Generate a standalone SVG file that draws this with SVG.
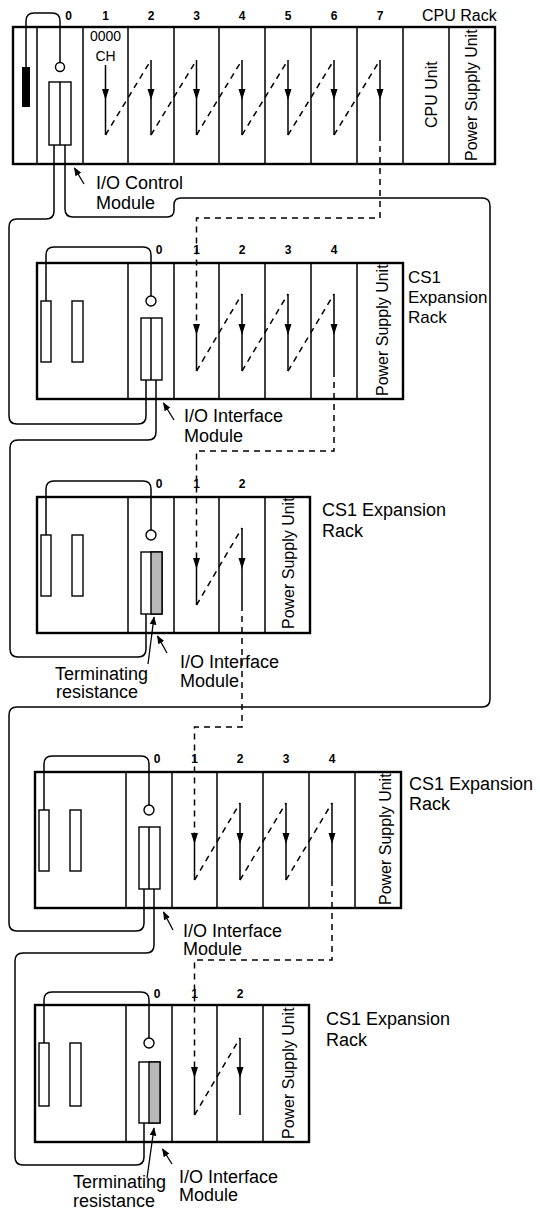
<svg xmlns="http://www.w3.org/2000/svg" width="540" height="1214" viewBox="0 0 540 1214">
<defs>
<style>
.rack{fill:#fff;stroke:#000;stroke-width:2.4}
.dv{stroke:#000;stroke-width:1.5;fill:none}
.bar{fill:#fff;stroke:#000;stroke-width:1.4}
.cab{fill:none;stroke:#000;stroke-width:1.5}
.flow{fill:none;stroke:#000;stroke-width:1.5}
.dash{fill:none;stroke:#000;stroke-width:1.5;stroke-dasharray:6 5}
.ptr{fill:none;stroke:#000;stroke-width:1.3;marker-end:url(#ah)}
.term{fill:#b8b8b8;stroke:#000;stroke-width:1.4}
text{font-family:"Liberation Sans",Arial,Helvetica,sans-serif;fill:#000}
.lbl{font-size:18px}
.num{font-size:12px;font-weight:bold;text-anchor:middle}
.rot{font-size:16px}
.ch{font-size:14px;text-anchor:middle}
</style>
<marker id="ah" viewBox="0 0 10 10" refX="9" refY="5" markerWidth="6.5" markerHeight="6.5" orient="auto"><path d="M0,1 L10,5 L0,9 z" fill="#000"/></marker>
</defs>
<rect x="0" y="0" width="540" height="1214" fill="#fff"/>

<!-- CPU Rack -->
<g id="cpu-rack">
<rect class="rack" x="13" y="27" width="482" height="137"/>
<path class="dv" d="M37,27V164M83,27V164M128,27V164M174,27V164M219,27V164M265,27V164M311,27V164M357,27V164M403,27V164M449,27V164"/>
<rect x="22" y="67" width="8" height="40" fill="#000"/>
<path class="cab" d="M26,67 V21 Q26,13 34,13 H52 Q60,13 60,21 V62.5"/>
<circle cx="60" cy="67" r="4.5" fill="#fff" stroke="#000" stroke-width="1.4"/>
<rect class="bar" x="49" y="82" width="22" height="63"/>
<line class="dv" x1="60" y1="82" x2="60" y2="145"/>
<text class="num" x="68.5" y="20">0</text>
<text class="num" x="105.5" y="20">1</text>
<text class="num" x="151" y="20">2</text>
<text class="num" x="196.5" y="20">3</text>
<text class="num" x="242" y="20">4</text>
<text class="num" x="288" y="20">5</text>
<text class="num" x="334" y="20">6</text>
<text class="num" x="380" y="20">7</text>
<text class="ch" x="105.5" y="41">0000</text>
<text class="ch" x="105.5" y="61">CH</text>
<path class="flow" d="M105.5,65V135M151,60V135M196.5,60V135M242,60V135M288,60V135M334,60V135M380,60V135"/>
<path fill="#000" d="M102,89H109L105.5,100Z M147.5,89H154.5L151,100Z M193,89H200L196.5,100Z M238.5,89H245.5L242,100Z M284.5,89H291.5L288,100Z M330.5,89H337.5L334,100Z M376.5,89H383.5L380,100Z"/>
<path class="dash" d="M105.5,135L151,60M151,135L196.5,60M196.5,135L242,60M242,135L288,60M288,135L334,60M334,135L380,60"/>
<text class="rot" transform="translate(437,128) rotate(-90)">CPU Unit</text>
<text class="rot" transform="translate(477,161) rotate(-90)">Power Supply Unit</text>
<text class="rot" x="422" y="21">CPU Rack</text>
<text class="lbl" x="96" y="189">I/O Control</text>
<text class="lbl" x="96" y="209">Module</text>
<line class="ptr" x1="84" y1="184" x2="74.5" y2="168"/>
</g>

<!-- CS1 Expansion Rack 1 (5 slots) -->
<g id="exp-rack-1">
<g transform="translate(37,263)">
<rect class="rack" x="0" y="0" width="366" height="136"/>
<path class="dv" d="M91,0V136M137,0V136M182,0V136M228,0V136M274,0V136M320,0V136"/>
<rect class="bar" x="4" y="38" width="10" height="61"/>
<rect class="bar" x="35" y="38" width="11" height="61"/>
<path class="cab" d="M9,38 V-8 Q9,-16 17,-16 H106 Q114,-16 114,-8 V33"/>
<circle cx="114" cy="38" r="5" fill="#fff" stroke="#000" stroke-width="1.4"/>
<rect class="bar" x="104" y="55" width="21" height="62"/>
<line class="dv" x1="114" y1="55" x2="114" y2="117"/>
<text class="num" x="122" y="-9">0</text>
<text class="num" x="159.5" y="-9">1</text>
<text class="num" x="205" y="-9">2</text>
<text class="num" x="251" y="-9">3</text>
<text class="num" x="297" y="-9">4</text>
<path class="flow" d="M159.5,62V108M205,31V108M251,31V108M297,31V108"/>
<path fill="#000" d="M156,61H163L159.5,72Z M201.5,61H208.5L205,72Z M247.5,61H254.5L251,72Z M293.5,61H300.5L297,72Z"/>
<path class="dash" d="M159.5,108L205,31M205,108L251,31M251,108L297,31"/>
<text class="rot" transform="translate(351,133) rotate(-90)">Power Supply Unit</text>
</g>
<text class="lbl" style="font-size:17px" x="408" y="283">CS1</text>
<text class="lbl" style="font-size:17px" x="408" y="303">Expansion</text>
<text class="lbl" style="font-size:17px" x="408" y="323">Rack</text>
<text class="lbl" x="184" y="422">I/O Interface</text>
<text class="lbl" x="184" y="442">Module</text>
<line class="ptr" x1="174" y1="420" x2="163.5" y2="403"/>
</g>

<!-- CS1 Expansion Rack 2 (3 slots, terminated) -->
<g id="exp-rack-2">
<g transform="translate(37,497)">
<rect class="rack" x="0" y="0" width="273" height="136"/>
<path class="dv" d="M91,0V136M137,0V136M182,0V136M228,0V136"/>
<rect class="bar" x="4" y="38" width="10" height="61"/>
<rect class="bar" x="35" y="38" width="11" height="61"/>
<path class="cab" d="M9,38 V-8 Q9,-16 17,-16 H106 Q114,-16 114,-8 V33"/>
<circle cx="114" cy="38" r="5" fill="#fff" stroke="#000" stroke-width="1.4"/>
<rect class="bar" x="104" y="55" width="21" height="62"/>
<rect class="term" x="114" y="55" width="11" height="62"/>
<text class="num" x="122" y="-9">0</text>
<text class="num" x="159.5" y="-9">1</text>
<text class="num" x="205" y="-9">2</text>
<path class="flow" d="M159.5,62V108M205,31V108"/>
<path fill="#000" d="M156,61H163L159.5,72Z M201.5,61H208.5L205,72Z"/>
<path class="dash" d="M159.5,108L205,31"/>
<text class="rot" transform="translate(257,132) rotate(-90)">Power Supply Unit</text>
</g>
<text class="lbl" x="322" y="516">CS1 Expansion</text>
<text class="lbl" x="322" y="537">Rack</text>
<text class="lbl" x="55" y="680">Terminating</text>
<text class="lbl" x="56" y="698">resistance</text>
<line class="ptr" x1="148" y1="664" x2="154" y2="617"/>
<text class="lbl" x="180" y="668">I/O Interface</text>
<text class="lbl" x="180" y="687">Module</text>
<line class="ptr" x1="167" y1="653" x2="157.5" y2="636"/>
</g>

<!-- CS1 Expansion Rack 3 (5 slots) -->
<g id="exp-rack-3">
<g transform="translate(35,772)">
<rect class="rack" x="0" y="0" width="366" height="136"/>
<path class="dv" d="M91,0V136M137,0V136M182,0V136M228,0V136M274,0V136M320,0V136"/>
<rect class="bar" x="4" y="38" width="10" height="61"/>
<rect class="bar" x="35" y="38" width="11" height="61"/>
<path class="cab" d="M9,38 V-8 Q9,-16 17,-16 H106 Q114,-16 114,-8 V33"/>
<circle cx="114" cy="38" r="5" fill="#fff" stroke="#000" stroke-width="1.4"/>
<rect class="bar" x="104" y="55" width="21" height="62"/>
<line class="dv" x1="114" y1="55" x2="114" y2="117"/>
<text class="num" x="122" y="-9">0</text>
<text class="num" x="159.5" y="-9">1</text>
<text class="num" x="205" y="-9">2</text>
<text class="num" x="251" y="-9">3</text>
<text class="num" x="297" y="-9">4</text>
<path class="flow" d="M159.5,62V108M205,31V108M251,31V108M297,31V108"/>
<path fill="#000" d="M156,61H163L159.5,72Z M201.5,61H208.5L205,72Z M247.5,61H254.5L251,72Z M293.5,61H300.5L297,72Z"/>
<path class="dash" d="M159.5,108L205,31M205,108L251,31M251,108L297,31"/>
<text class="rot" transform="translate(356,133) rotate(-90)">Power Supply Unit</text>
</g>
<text class="lbl" x="409" y="790">CS1 Expansion</text>
<text class="lbl" x="409" y="810">Rack</text>
<text class="lbl" x="183" y="937">I/O Interface</text>
<text class="lbl" x="183" y="955">Module</text>
<line class="ptr" x1="173" y1="930" x2="163.5" y2="912"/>
</g>

<!-- CS1 Expansion Rack 4 (3 slots, terminated) -->
<g id="exp-rack-4">
<g transform="translate(35,1005)">
<rect class="rack" x="0" y="0" width="274" height="137"/>
<path class="dv" d="M91,0V137M137,0V137M182,0V137M228,0V137"/>
<rect class="bar" x="4" y="38" width="10" height="63"/>
<rect class="bar" x="35" y="38" width="11" height="63"/>
<path class="cab" d="M9,38 V-5 Q9,-13 17,-13 H106 Q114,-13 114,-5 V33"/>
<circle cx="114" cy="38" r="5" fill="#fff" stroke="#000" stroke-width="1.4"/>
<rect class="bar" x="104" y="57" width="21" height="61"/>
<rect class="term" x="114" y="57" width="11" height="61"/>
<text class="num" x="122" y="-7">0</text>
<text class="num" x="159.5" y="-7">1</text>
<text class="num" x="205" y="-7">2</text>
<path class="flow" d="M159.5,63V110M205,33V110"/>
<path fill="#000" d="M156,62H163L159.5,73Z M201.5,62H208.5L205,73Z"/>
<path class="dash" d="M159.5,110L205,33"/>
<text class="rot" transform="translate(259,134) rotate(-90)">Power Supply Unit</text>
</g>
<text class="lbl" x="326" y="1025">CS1 Expansion</text>
<text class="lbl" x="326" y="1046">Rack</text>
<text class="lbl" x="73" y="1188">Terminating</text>
<text class="lbl" x="73" y="1207">resistance</text>
<line class="ptr" x1="147" y1="1178" x2="154" y2="1128"/>
<text class="lbl" x="179" y="1183">I/O Interface</text>
<text class="lbl" x="179" y="1201">Module</text>
<line class="ptr" x1="172" y1="1164" x2="162.5" y2="1149"/>
</g>

<!-- Connectors: cables and data-flow -->
<g id="connectors">
<path class="cab" d="M54,145 V211 Q54,219 46,219 H17 Q9,219 9,227 V416 Q9,424 17,424 H138 Q146,424 146,416 V380"/>
<path class="cab" d="M156,380 V432 Q156,440 148,440 H18 Q10,440 10,448 V649 Q10,657 18,657 H138 Q146,657 146,649 V614"/>
<path class="cab" d="M65,145 V209 Q65,217 73,217 H167 Q174,217 174,210 V205 Q174,198 181,198 H482 Q490,198 490,206 V699 Q490,707 482,707 H17 Q9,707 9,715 V923 Q9,931 17,931 H136 Q144,931 144,923 V889"/>
<path class="cab" d="M154,889 V945 Q154,953 146,953 H23 Q15,953 15,961 V1157 Q15,1165 23,1165 H136 Q144,1165 144,1157 V1123"/>
<path class="dash" d="M380,135 V218 H196.5 V325"/>
<path class="dash" d="M334,371 V451 H196.5 V559"/>
<path class="dash" d="M242,605 V727 H194.5 V834"/>
<path class="dash" d="M332,880 V960 H194.5 V1068"/>
</g>
</svg>
